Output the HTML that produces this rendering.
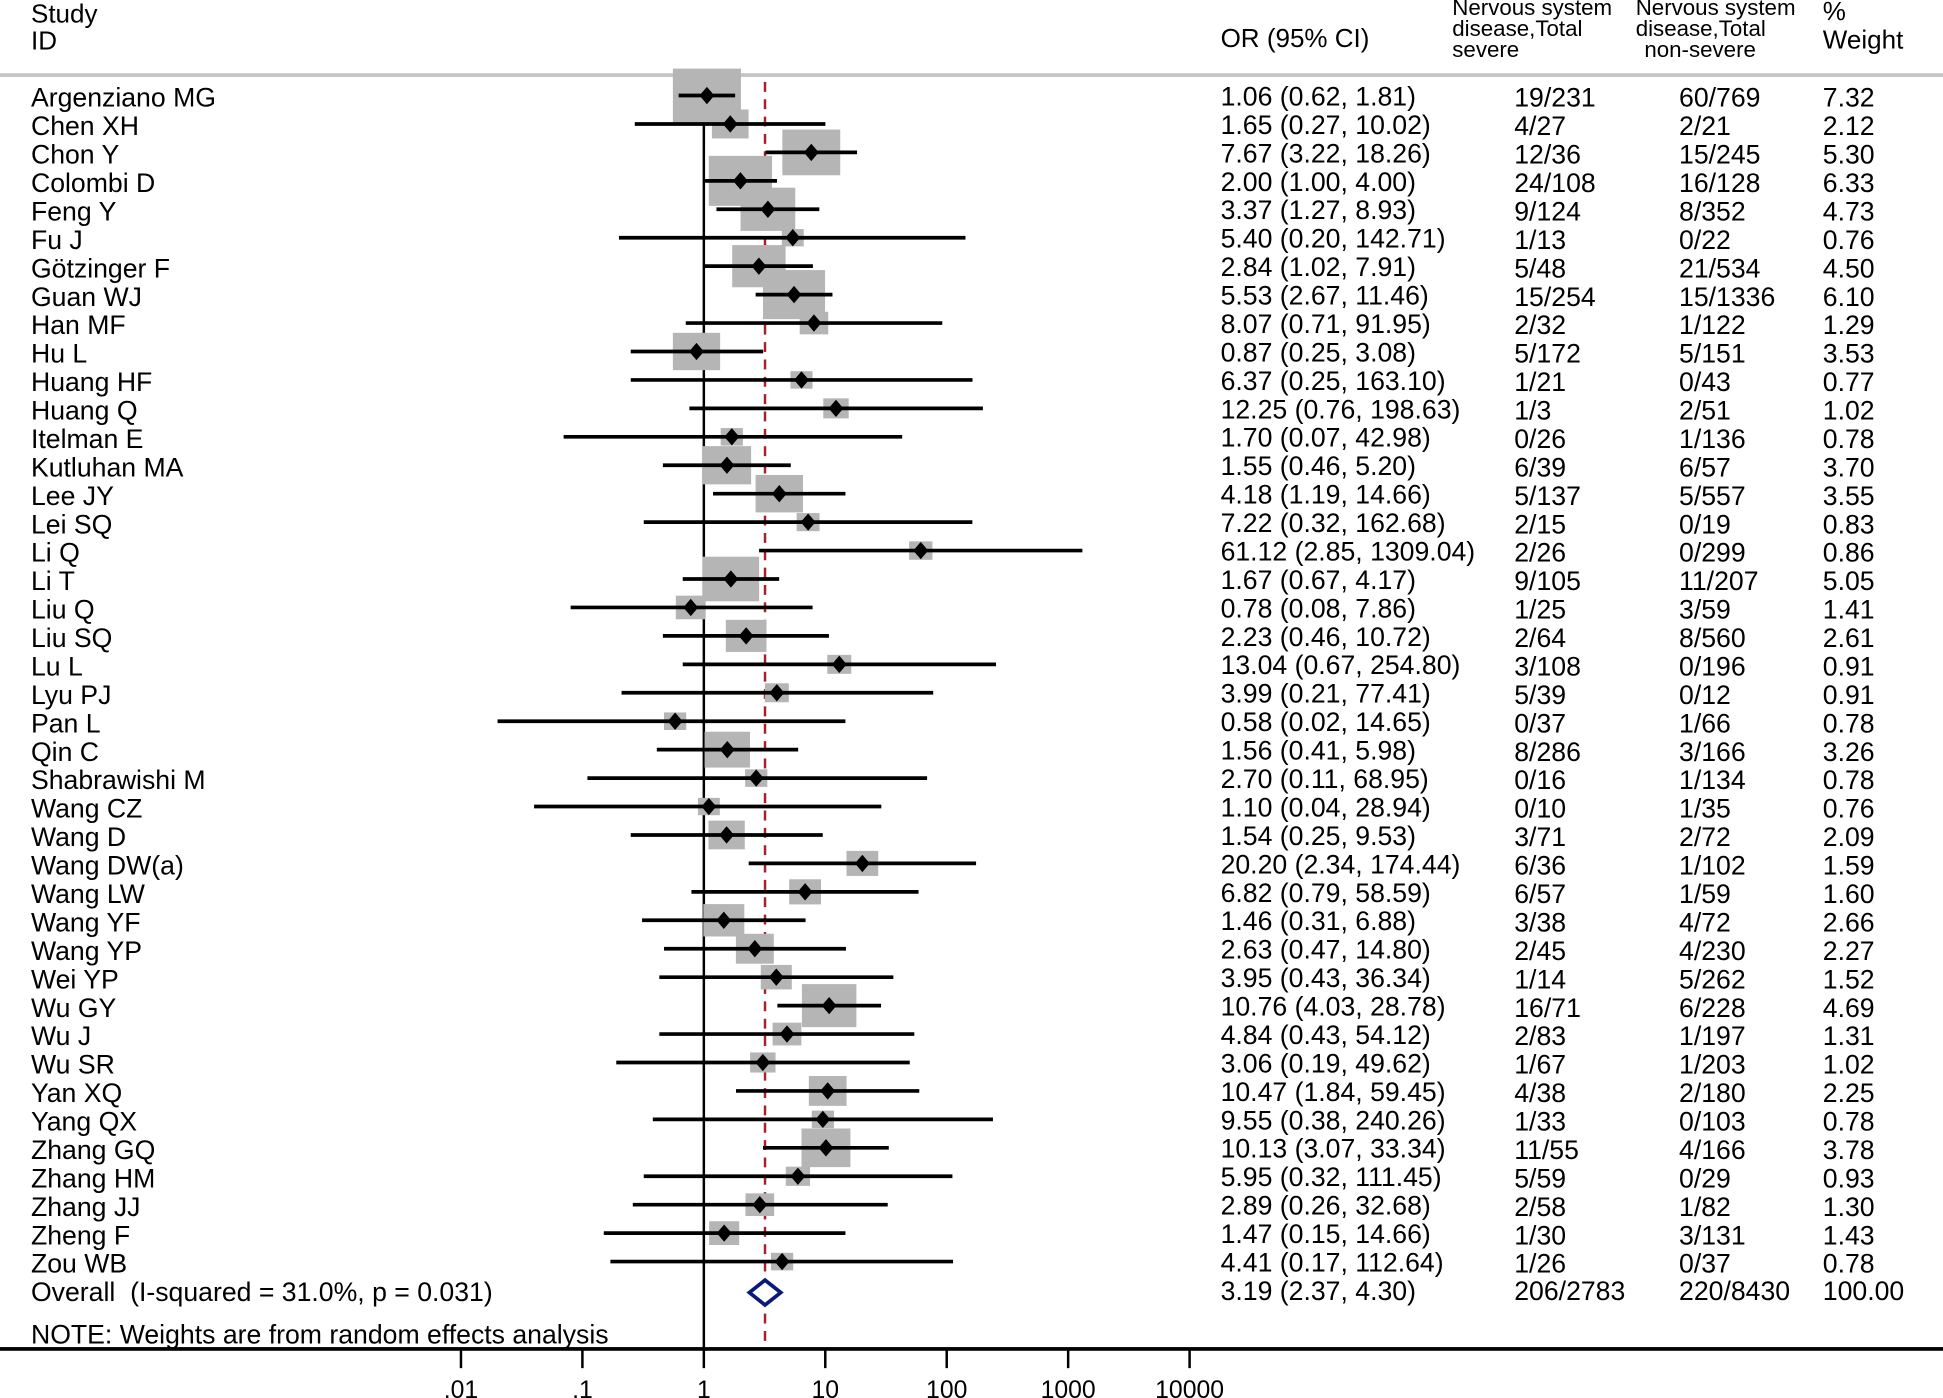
<!DOCTYPE html>
<html><head><meta charset="utf-8"><style>
html,body{margin:0;padding:0;background:#fff;}
svg{display:block;}
text{font-family:"Liberation Sans",Arial,sans-serif;fill:#000;}
</style></head><body>
<svg id="chart" width="1943" height="1398" viewBox="0 0 1568 1128" xmlns="http://www.w3.org/2000/svg">
<g>
<text x="25" y="18" font-size="21">Study</text>
<text x="25" y="40" font-size="21">ID</text>
<text x="985" y="38" font-size="21">OR (95% CI)</text>
<text x="1172" y="12" font-size="18"><tspan x="1172">Nervous system</tspan><tspan x="1172" dy="17">disease,Total</tspan><tspan x="1172" dy="17">severe</tspan></text>
<text x="1320" y="12" font-size="18"><tspan x="1320">Nervous system</tspan><tspan x="1320" dy="17">disease,Total</tspan><tspan x="1327" dy="17">non-severe</tspan></text>
<text x="1471" y="16" font-size="21">%</text>
<text x="1471" y="39" font-size="21">Weight</text>
</g>
<rect x="0" y="59" width="1568" height="3" fill="#c4c4c4"/>
<g id="plot"></g>
<text x="25" y="1084" font-size="21.5">NOTE: Weights are from random effects analysis</text>
<rect x="0" y="1087" width="1568" height="3" fill="#000"/>
<g id="axis"></g>
</svg>
<script>
const studies=["Argenziano MG","Chen XH","Chon Y","Colombi D","Feng Y","Fu J","Götzinger F","Guan WJ","Han MF","Hu L","Huang HF","Huang Q","Itelman E","Kutluhan MA","Lee JY","Lei SQ","Li Q","Li T","Liu Q","Liu SQ","Lu L","Lyu PJ","Pan L","Qin C","Shabrawishi M","Wang CZ","Wang D","Wang DW(a)","Wang LW","Wang YF","Wang YP","Wei YP","Wu GY","Wu J","Wu SR","Yan XQ","Yang QX","Zhang GQ","Zhang HM","Zhang JJ","Zheng F","Zou WB"];
const orVals=[1.06,1.65,7.67,2.00,3.37,5.40,2.84,5.53,8.07,0.87,6.37,12.25,1.70,1.55,4.18,7.22,61.12,1.67,0.78,2.23,13.04,3.99,0.58,1.56,2.70,1.10,1.54,20.20,6.82,1.46,2.63,3.95,10.76,4.84,3.06,10.47,9.55,10.13,5.95,2.89,1.47,4.41];
const lowVals=[0.62,0.27,3.22,1.00,1.27,0.20,1.02,2.67,0.71,0.25,0.25,0.76,0.07,0.46,1.19,0.32,2.85,0.67,0.08,0.46,0.67,0.21,0.02,0.41,0.11,0.04,0.25,2.34,0.79,0.31,0.47,0.43,4.03,0.43,0.19,1.84,0.38,3.07,0.32,0.26,0.15,0.17];
const highVals=[1.81,10.02,18.26,4.00,8.93,142.71,7.91,11.46,91.95,3.08,163.10,198.63,42.98,5.20,14.66,162.68,1309.04,4.17,7.86,10.72,254.80,77.41,14.65,5.98,68.95,28.94,9.53,174.44,58.59,6.88,14.80,36.34,28.78,54.12,49.62,59.45,240.26,33.34,111.45,32.68,14.66,112.64];
const severe=["19/231","4/27","12/36","24/108","9/124","1/13","5/48","15/254","2/32","5/172","1/21","1/3","0/26","6/39","5/137","2/15","2/26","9/105","1/25","2/64","3/108","5/39","0/37","8/286","0/16","0/10","3/71","6/36","6/57","3/38","2/45","1/14","16/71","2/83","1/67","4/38","1/33","11/55","5/59","2/58","1/30","1/26"];
const nonSevere=["60/769","2/21","15/245","16/128","8/352","0/22","21/534","15/1336","1/122","5/151","0/43","2/51","1/136","6/57","5/557","0/19","0/299","11/207","3/59","8/560","0/196","0/12","1/66","3/166","1/134","1/35","2/72","1/102","1/59","4/72","4/230","5/262","6/228","1/197","1/203","2/180","0/103","4/166","0/29","1/82","3/131","0/37"];
const weights=[7.32,2.12,5.30,6.33,4.73,0.76,4.50,6.10,1.29,3.53,0.77,1.02,0.78,3.70,3.55,0.83,0.86,5.05,1.41,2.61,0.91,0.91,0.78,3.26,0.78,0.76,2.09,1.59,1.60,2.66,2.27,1.52,4.69,1.31,1.02,2.25,0.78,3.78,0.93,1.30,1.43,0.78];
const overall=[3.19,2.37,4.30];
const overallText=["3.19 (2.37, 4.30)","206/2783","220/8430","100.00"];
const tickVals=[0.01,0.1,1,10,100,1000,10000];
const tickLabels=[".01",".1","1","10","100","1000","10000"];

const NS="http://www.w3.org/2000/svg";
const FS=21.5;
const xS=v=>568+98*Math.log10(v);
const yS=i=>78+i*(1019-78)/41;
const plot=document.getElementById('plot'), axis=document.getElementById('axis');
function mk(tag,attrs,parent,txt){const e=document.createElementNS(NS,tag);for(const k in attrs)e.setAttribute(k,attrs[k]);if(txt!==undefined)e.textContent=txt;parent.appendChild(e);return e;}
const f2=v=>v.toFixed(2);
let l=mk('line',{x1:568,x2:568,y1:60,y2:1088,stroke:'#000','stroke-width':2},plot);


l=mk('line',{x1:xS(overall[0]),x2:xS(overall[0]),y1:66,y2:1088,stroke:'#a3222b','stroke-width':2,'stroke-dasharray':'8,6'},plot);


studies.forEach((s,i)=>{const w=20.3*Math.sqrt(weights[i]),h=w*0.79;
 const b=mk('rect',{x:xS(orVals[i])-w/2,y:yS(i)-1-h/2,width:w,height:h,fill:'#b5b5b5'},plot);
 
 });
studies.forEach((s,i)=>{const y=yS(i)-1;
 const c=mk('line',{x1:xS(lowVals[i]),x2:xS(highVals[i]),y1:y,y2:y,stroke:'#000','stroke-width':3},plot);
 
 
 const x=xS(orVals[i]);
 const p=mk('polygon',{points:`${x-6},${y} ${x},${y-7} ${x+6},${y} ${x},${y+7}`,fill:'#000'},plot);
 
 
 const ty=yS(i)+8;
 let t=mk('text',{x:25,y:ty,'font-size':FS},plot,s);
 
 
 t=mk('text',{x:985,y:ty-1,'font-size':FS},plot,`${f2(orVals[i])} (${f2(lowVals[i])}, ${f2(highVals[i])})`);
 
 
 t=mk('text',{x:1222,y:ty,'font-size':FS},plot,severe[i]);
 
 
 t=mk('text',{x:1355,y:ty,'font-size':FS},plot,nonSevere[i]);
 
 
 t=mk('text',{x:1471,y:ty,'font-size':FS},plot,f2(weights[i]));
 
 
});
const oy=1043;
const d=mk('polygon',{points:`${xS(overall[1])},${oy} ${xS(overall[0])},${oy-10} ${xS(overall[2])},${oy} ${xS(overall[0])},${oy+10}`,fill:'#fff',stroke:'#0a1a7a','stroke-width':3},plot);


let t=mk('text',{x:25,y:oy+7,'font-size':FS},plot,'Overall\u00a0\u00a0(I-squared = 31.0%, p = 0.031)');


[985,1222,1355,1471].forEach((x,k)=>{const e=mk('text',{x:x,y:oy+6,'font-size':FS},plot,overallText[k]);
 
 });
tickVals.forEach((v,k)=>{const x=xS(v);
 const tk=mk('line',{x1:x,x2:x,y1:1088,y2:1104,stroke:'#000','stroke-width':2},axis);
 
 
 const tl=mk('text',{x:x,y:1128,'font-size':20,'text-anchor':'middle'},axis,tickLabels[k]);
 
 });
</script>
</body></html>
